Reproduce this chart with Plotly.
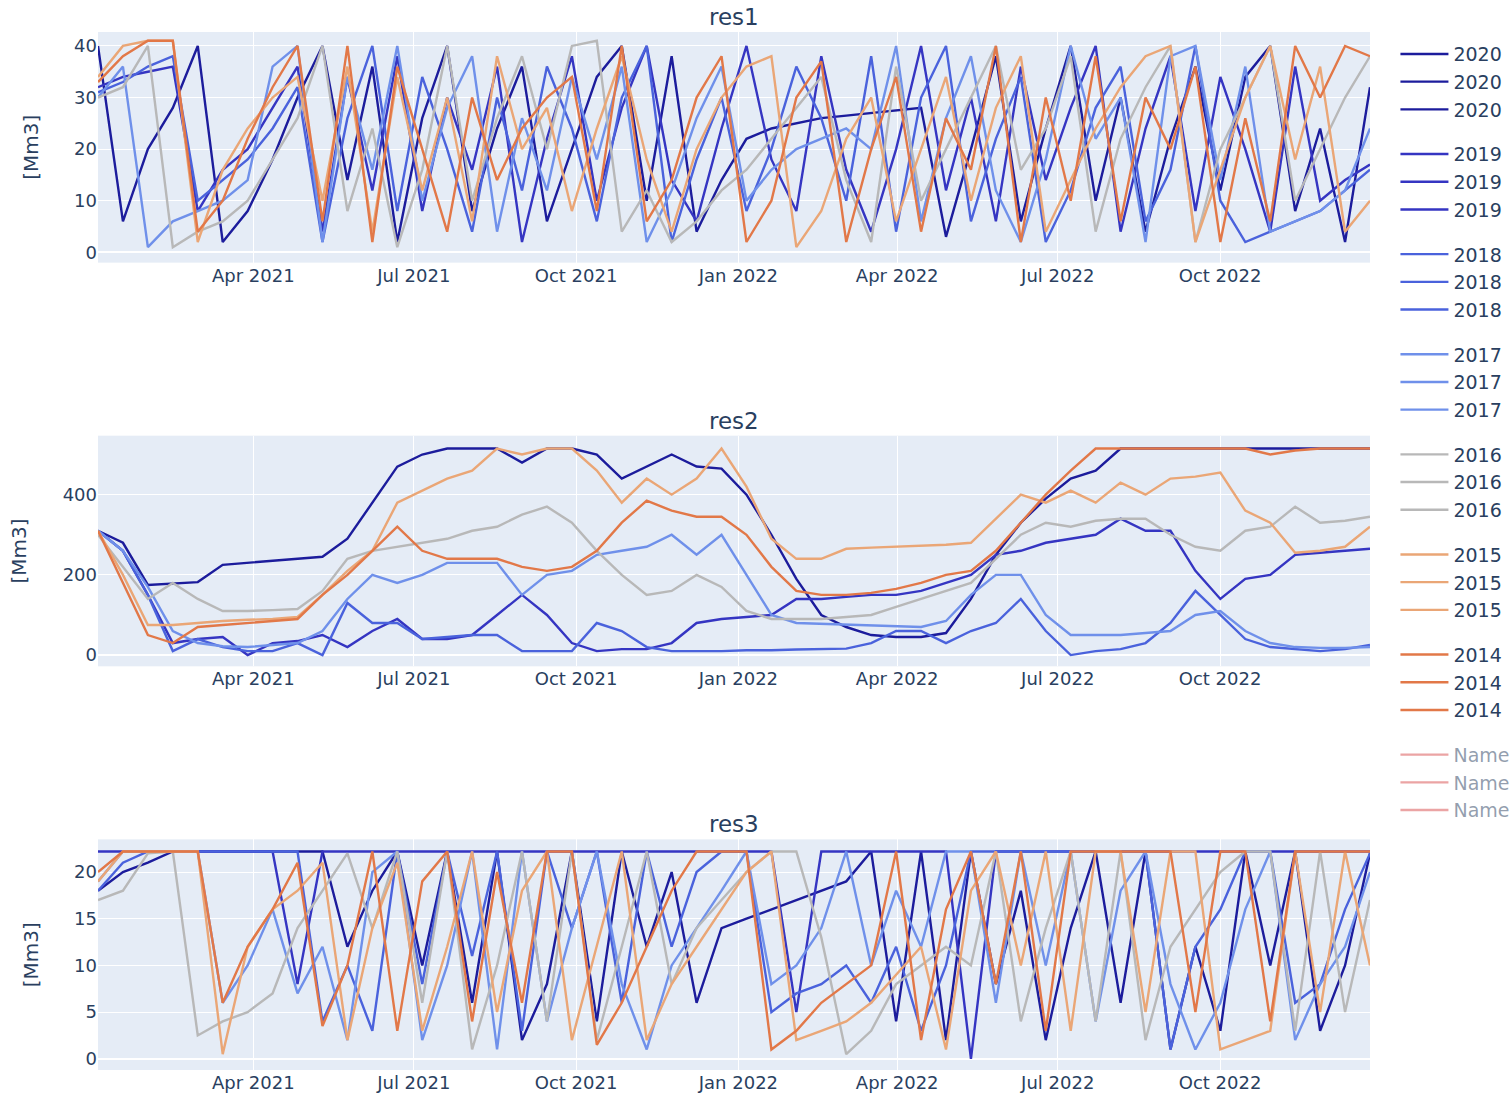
import pandas as pd
import plotly.graph_objects as go
from plotly.subplots import make_subplots

# ---------------- data ----------------
dates = pd.date_range("2021-01-03", "2022-12-25", periods=52)

years = ["2020", "2019", "2018", "2017", "2016", "2015", "2014"]
colors = {
    "2020": "#1c1c9c",
    "2019": "#3535c2",
    "2018": "#4a62dc",
    "2017": "#6f90ea",
    "2016": "#b8b8b8",
    "2015": "#eaa676",
    "2014": "#e27848",
    "Name": "#d84a4a",
}

res1_2020 = [40, 6, 20, 28, 40, 2, 8, 18, 30, 40, 14, 36, 2, 26, 40, 8, 24, 36, 6, 20, 34, 40, 10, 38, 4, 14,
             22, 24, 25, 26, 26.5, 27, 27.5, 28, 3, 20, 38, 6, 24, 40, 10, 30, 4, 22, 36, 12, 34, 40, 8, 24, 2, 32]
res1_2019 = [32, 34, 35, 36, 8, 16, 20, 28, 36, 4, 34, 12, 38, 8, 30, 16, 36, 2, 22, 38, 10, 28, 40, 14, 6, 24,
             40, 18, 8, 38, 16, 4, 20, 40, 12, 30, 6, 36, 14, 28, 40, 4, 24, 38, 8, 34, 20, 4, 36, 10, 14, 17]
res1_2018 = [31, 33, 36, 38, 10, 14, 18, 24, 32, 2, 26, 40, 8, 34, 20, 4, 30, 12, 36, 24, 6, 30, 40, 2, 18, 30,
             8, 20, 36, 26, 10, 38, 4, 30, 40, 6, 22, 34, 2, 12, 28, 36, 6, 16, 40, 10, 2, 4, 6, 8, 12, 16]
res1_2017 = [30, 36, 1, 6, 8, 10, 14, 36, 40, 2, 34, 16, 40, 10, 28, 38, 4, 26, 12, 34, 18, 36, 2, 12, 26, 36,
             10, 16, 20, 22, 24, 20, 40, 6, 26, 38, 12, 2, 18, 40, 22, 30, 2, 38, 40, 14, 36, 4, 6, 8, 12, 24]
res1_2016 = [30, 32, 40, 1, 4, 6, 10, 18, 26, 40, 8, 24, 1, 16, 40, 10, 26, 38, 20, 40, 41, 4, 12, 2, 6, 12,
             16, 22, 28, 34, 14, 2, 36, 10, 20, 30, 40, 16, 24, 38, 4, 22, 32, 40, 2, 20, 30, 40, 10, 20, 30, 38]
res1_2015 = [34, 40, 41, 41, 2, 16, 24, 30, 34, 10, 36, 4, 34, 12, 30, 6, 38, 20, 28, 8, 24, 38, 18, 4, 20, 30,
             36, 38, 1, 8, 22, 30, 6, 20, 34, 10, 28, 38, 4, 14, 24, 32, 38, 40, 2, 16, 30, 40, 18, 36, 4, 10]
res1_2014 = [33, 38, 41, 41, 4, 10, 22, 32, 40, 6, 40, 2, 36, 20, 4, 30, 14, 24, 30, 34, 8, 40, 6, 14, 30, 38,
             2, 10, 30, 37, 2, 20, 34, 4, 26, 16, 40, 2, 30, 10, 38, 6, 30, 20, 36, 2, 26, 6, 40, 30, 40, 38]

res2_2020 = [310, 280, 175, 178, 182, 225, 230, 235, 240, 245, 290, 380, 470, 500, 515, 515, 515, 480, 515, 515,
             500, 440, 470, 500, 470, 465, 400, 300, 190, 100, 70, 50, 45, 45, 55, 140, 250, 330, 390, 440, 460,
             515, 515, 515, 515, 515, 515, 515, 515, 515, 515, 515]
res2_2019 = [310, 260, 150, 30, 40, 45, 0, 30, 35, 50, 20, 60, 90, 40, 40, 50, 100, 150, 100, 30, 10, 15, 15,
             30, 80, 90, 95, 100, 140, 140, 145, 150, 150, 160, 180, 200, 250, 260, 280, 290, 300, 340, 310, 310,
             210, 140, 190, 200, 250, 255, 260, 265]
res2_2018 = [310, 260, 150, 10, 40, 20, 10, 10, 30, 0, 130, 80, 80, 40, 45, 50, 50, 10, 10, 10, 80, 60, 20, 10,
             10, 10, 12, 12, 14, 15, 16, 30, 60, 60, 30, 60, 80, 140, 60, 0, 10, 15, 30, 80, 160, 100, 40, 20, 15,
             10, 15, 25]
res2_2017 = [310, 260, 170, 60, 30, 22, 20, 25, 30, 60, 140, 200, 180, 200, 230, 230, 230, 150, 200, 210, 250,
             260, 270, 300, 250, 300, 200, 100, 80, 78, 76, 75, 72, 70, 85, 150, 200, 200, 100, 50, 50, 50, 55,
             60, 100, 110, 60, 30, 20, 18, 18, 20]
res2_2016 = [300, 220, 140, 180, 140, 110, 110, 112, 115, 160, 240, 260, 270, 280, 290, 310, 320, 350, 370, 330,
             260, 200, 150, 160, 200, 170, 110, 90, 90, 90, 95, 100, 120, 140, 160, 180, 240, 300, 330, 320, 335,
             340, 340, 300, 270, 260, 310, 320, 370, 330, 335, 345]
res2_2015 = [310, 200, 75, 75, 80, 85, 88, 90, 95, 150, 210, 260, 380, 410, 440, 460, 515, 500, 515, 515, 460,
             380, 440, 400, 440, 515, 420, 290, 240, 240, 265, 268, 270, 272, 275, 280, 340, 400, 380, 410, 380,
             430, 400, 440, 445, 455, 360, 330, 255, 260, 270, 320]
res2_2014 = [310, 180, 50, 30, 70, 75, 80, 85, 90, 150, 200, 260, 320, 260, 240, 240, 240, 220, 210, 220, 260,
             330, 385, 360, 345, 345, 300, 220, 160, 150, 150, 155, 165, 180, 200, 210, 260, 330, 400, 460, 515,
             515, 515, 515, 515, 515, 515, 500, 510, 515, 515, 515]

res3_2020 = [18, 20, 21, 22.2, 22.2, 22.2, 22.2, 22.2, 22.2, 22.2, 12, 18, 22.2, 10, 22.2, 6, 22.2, 2, 8, 22.2,
             4, 22.2, 12, 20, 6, 14, 15, 16, 17, 18, 19, 22.2, 4, 22.2, 2, 22.2, 8, 18, 2, 14, 22.2, 6, 22.2, 1,
             12, 3, 22.2, 10, 22.2, 3, 10, 22]
res3_2019 = [22.2, 22.2, 22.2, 22.2, 22.2, 22.2, 22.2, 22.2, 8, 22.2, 22.2, 22.2, 22.2, 22.2, 22.2, 22.2, 22.2,
             22.2, 22.2, 22.2, 22.2, 22.2, 22.2, 22.2, 22.2, 22.2, 22.2, 22.2, 5, 22.2, 22.2, 22.2, 22.2, 22.2,
             22.2, 0, 22.2, 22.2, 22.2, 22.2, 22.2, 22.2, 22.2, 22.2, 22.2, 22.2, 22.2, 22.2, 22.2, 22.2, 22.2, 22.2]
res3_2018 = [18, 21, 22.2, 22.2, 22.2, 22.2, 22.2, 22.2, 22.2, 4, 10, 3, 22.2, 8, 22.2, 11, 22.2, 3, 22.2, 14,
             22.2, 6, 22.2, 12, 20, 22.2, 22.2, 5, 7, 8, 10, 6, 12, 3, 10, 22.2, 22.2, 22.2, 22.2, 22.2, 22.2, 22.2,
             22.2, 1, 12, 16, 22.2, 22.2, 6, 8, 16, 22]
res3_2017 = [19, 22.2, 22.2, 22.2, 22.2, 6, 10, 16, 7, 12, 2, 20, 22.2, 2, 10, 22.2, 1, 22.2, 4, 14, 22.2, 8, 1,
             10, 14, 18, 22.2, 8, 10, 14, 22.2, 10, 18, 12, 22.2, 22.2, 6, 22.2, 10, 22.2, 4, 18, 22.2, 8, 1, 6,
             16, 22.2, 2, 8, 12, 20]
res3_2016 = [17, 18, 22, 22.2, 2.5, 4, 5, 7, 14, 18, 22, 14, 22.2, 6, 22.2, 1, 10, 22.2, 4, 22.2, 2, 12, 22.2,
             8, 14, 17, 20, 22.2, 22.2, 13, 0.5, 3, 8, 10, 12, 10, 22.2, 4, 14, 22.2, 4, 22.2, 2, 12, 16, 20, 22.2,
             22.2, 3, 22.2, 5, 17]
res3_2015 = [19, 22.2, 22.2, 22.2, 22.2, 0.5, 12, 16, 18, 21, 2, 14, 21, 3, 12, 22.2, 5, 18, 22.2, 2, 12, 22.2,
             2, 8, 12, 16, 20, 22.2, 2, 3, 4, 6, 9, 12, 1, 18, 22.2, 10, 22.2, 3, 22.2, 22.2, 5, 22.2, 22.2, 1, 2,
             3, 22.2, 5, 22.2, 10]
res3_2014 = [20, 22.2, 22.2, 22.2, 22.2, 6, 12, 16, 21, 3.5, 10, 22.2, 3, 19, 22.2, 4, 20, 6, 22.2, 22.2, 1.5,
             6, 12, 18, 22.2, 22.2, 22.2, 1, 3, 6, 8, 10, 22.2, 2, 16, 22.2, 8, 22.2, 3, 22.2, 22.2, 22.2, 22.2,
             22.2, 5, 22.2, 22.2, 4, 22.2, 22.2, 22.2, 22.2]

name_dates = ["2021-01-03", "2022-12-25"]
name_vals = [0, 0]

series = {
    "res1": dict(zip(years, [res1_2020, res1_2019, res1_2018, res1_2017, res1_2016, res1_2015, res1_2014])),
    "res2": dict(zip(years, [res2_2020, res2_2019, res2_2018, res2_2017, res2_2016, res2_2015, res2_2014])),
    "res3": dict(zip(years, [res3_2020, res3_2019, res3_2018, res3_2017, res3_2016, res3_2015, res3_2014])),
}
panels = ["res1", "res2", "res3"]
y_ranges = {"res1": [-2, 42.7], "res2": [-28, 547], "res3": [-1.2, 23.5]}
y_dticks = {"res1": 10, "res2": 200, "res3": 5}

# ---------------- figure ----------------
FONT = "DejaVu Sans, Verdana, sans-serif"
fig = make_subplots(rows=3, cols=1, subplot_titles=panels, vertical_spacing=0.1667)

for r, p in enumerate(panels, start=1):
    for yr in years:
        fig.add_trace(go.Scatter(x=dates, y=series[p][yr], mode="lines", name=yr,
                                 legendgroup=yr, line=dict(color=colors[yr], width=2.4)),
                      row=r, col=1)
    fig.add_trace(go.Scatter(x=name_dates, y=name_vals, mode="lines", name="Name",
                             legendgroup="Name", visible="legendonly",
                             line=dict(color=colors["Name"], width=2.4)),
                  row=r, col=1)
    fig.update_yaxes(range=y_ranges[p], dtick=y_dticks[p], title_text="[Mm3]",
                     title_font=dict(size=20), title_standoff=30,
                     tickfont=dict(size=18), row=r, col=1)
    fig.update_xaxes(range=["2021-01-03", "2022-12-25"], dtick="M3", tick0="2021-01-01",
                     tickformat="%b %Y", tickfont=dict(size=18), row=r, col=1)

for a in fig.layout.annotations:
    a.font = dict(size=23, family=FONT, color="#2a3f5f")

fig.update_layout(
    width=1512, height=1100,
    template="plotly",
    font=dict(family=FONT, size=18, color="#2a3f5f"),
    margin=dict(l=98, r=142, t=32, b=30, autoexpand=False),
    legend=dict(font=dict(size=19), tracegroupgap=17, itemwidth=48,
                x=1.02, xanchor="left", y=0.997, yanchor="top"),
    showlegend=True,
)

fig.write_html("out.html")
